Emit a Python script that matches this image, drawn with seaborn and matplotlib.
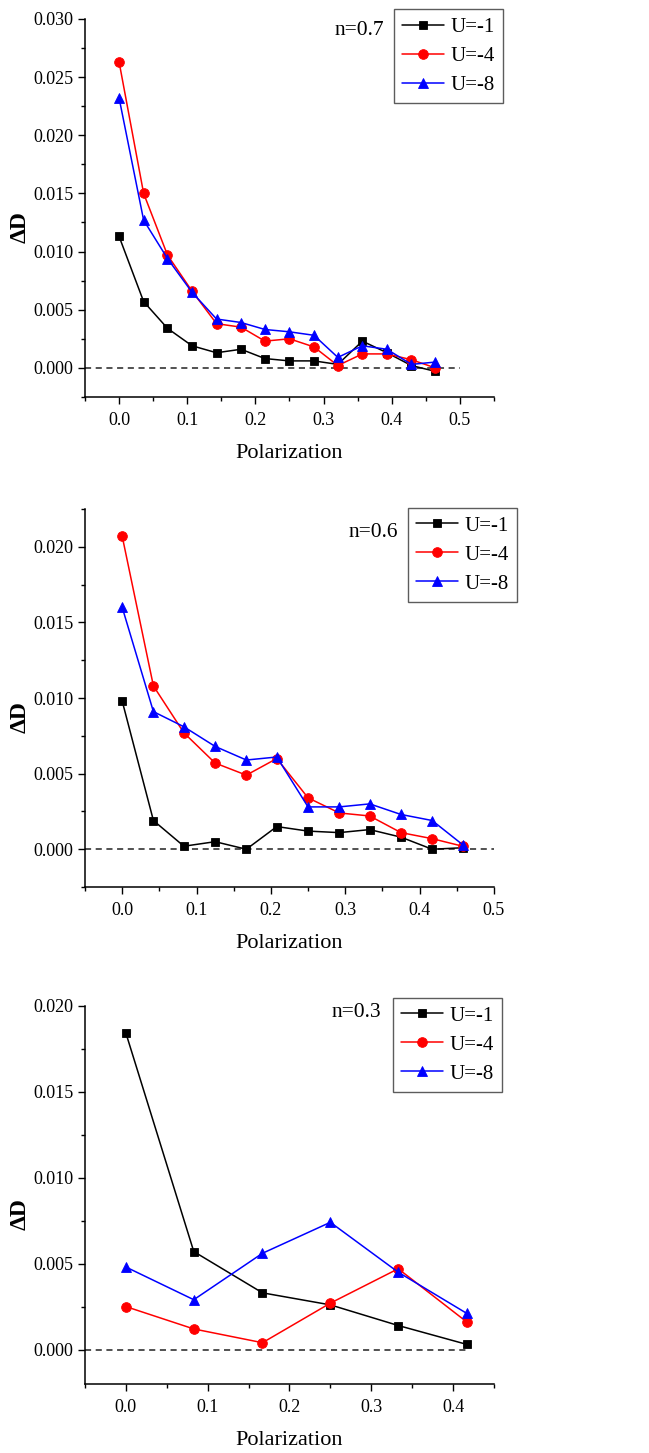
import numpy as np
import pandas as pd
import matplotlib
matplotlib.use('Agg')
import matplotlib.pyplot as plt
from matplotlib.ticker import MultipleLocator, AutoMinorLocator, FormatStrFormatter
import seaborn as sns

# ---------------- data ----------------
series_names = ['U=-1', 'U=-4', 'U=-8']

# n = 0.7
x_07 = [0.0, 0.036, 0.071, 0.107, 0.143, 0.179, 0.214, 0.25, 0.286, 0.321, 0.357, 0.393, 0.429, 0.464]
u1_07 = [0.0113, 0.0057, 0.0034, 0.0019, 0.0013, 0.0016, 0.0008, 0.0006, 0.0006, 0.0003, 0.0023, 0.0013, 0.0002, -0.0003]
u4_07 = [0.0263, 0.0150, 0.0097, 0.0066, 0.0038, 0.0035, 0.0023, 0.0025, 0.0018, 0.0002, 0.0012, 0.0012, 0.0007, 0.0000]
u8_07 = [0.0232, 0.0127, 0.0094, 0.0065, 0.0042, 0.0039, 0.0033, 0.0031, 0.0028, 0.0009, 0.0019, 0.0016, 0.0003, 0.0005]

# n = 0.6
x_06 = [0.0, 0.042, 0.083, 0.125, 0.167, 0.208, 0.25, 0.292, 0.333, 0.375, 0.417, 0.458]
u1_06 = [0.0098, 0.0019, 0.0002, 0.0005, 0.0000, 0.0015, 0.0012, 0.0011, 0.0013, 0.0008, 0.0000, 0.0001]
u4_06 = [0.0207, 0.0108, 0.0077, 0.0057, 0.0049, 0.0060, 0.0034, 0.0024, 0.0022, 0.0011, 0.0007, 0.0002]
u8_06 = [0.0160, 0.0091, 0.0081, 0.0068, 0.0059, 0.0061, 0.0028, 0.0028, 0.0030, 0.0023, 0.0019, 0.0003]

# n = 0.3
x_03 = [0.0, 0.083, 0.167, 0.25, 0.333, 0.417]
u1_03 = [0.0184, 0.0057, 0.0033, 0.0026, 0.0014, 0.0003]
u4_03 = [0.0025, 0.0012, 0.0004, 0.0027, 0.0047, 0.0016]
u8_03 = [0.0048, 0.0029, 0.0056, 0.0074, 0.0045, 0.0021]

panel_labels = ['n=0.7', 'n=0.6', 'n=0.3']
xlims = [(-0.05, 0.55), (-0.05, 0.5), (-0.05, 0.45)]
ylims = [(-0.0025, 0.030), (-0.0025, 0.0225), (-0.002, 0.020)]
zero_line_end = [0.5, 0.5, 0.417]

panels = [
    (x_07, [u1_07, u4_07, u8_07]),
    (x_06, [u1_06, u4_06, u8_06]),
    (x_03, [u1_03, u4_03, u8_03]),
]

# ---------------- style ----------------
sns.set_style('ticks')
plt.rcParams['font.family'] = ['Liberation Serif', 'DejaVu Serif']
for key in ['text.color', 'axes.labelcolor', 'xtick.color', 'ytick.color']:
    plt.rcParams[key] = 'black'

colors = ['#000000', '#ff0000', '#0000ff']
markers = ['s', 'o', '^']
msizes = [6.0, 7.0, 7.5]

fig = plt.figure(figsize=(6.49, 14.53), dpi=100)

# axes boxes in figure fractions (left, bottom, width, height)
boxes = [
    (0.131, 0.7268, 0.630, 0.2602),
    (0.131, 0.3895, 0.630, 0.2602),
    (0.131, 0.0475, 0.630, 0.2604),
]
legend_anchor = [(1.022, 1.026), (1.056, 1.003), (1.020, 1.021)]
nlabel_pos = [(0.670, 0.968), (0.705, 0.939), (0.664, 0.981)]

for i, (xs, ys) in enumerate(panels):
    ax = fig.add_axes(boxes[i])

    # dashed zero reference
    ax.plot([xlims[i][0], zero_line_end[i]], [0, 0], ls=(0, (4, 3)), color='#222222', lw=1.1, zorder=1)

    for name, y, c, m, ms in zip(series_names, ys, colors, markers, msizes):
        df = pd.DataFrame({'Polarization': xs, 'dD': y})
        sns.lineplot(data=df, x='Polarization', y='dD', ax=ax, color=c, marker=m,
                     markersize=ms, markeredgecolor=c, markeredgewidth=0.6,
                     linewidth=1.1, label=name, errorbar=None, zorder=3)

    ax.set_xlim(*xlims[i])
    ax.set_ylim(*ylims[i])
    ax.xaxis.set_major_locator(MultipleLocator(0.1))
    ax.xaxis.set_minor_locator(AutoMinorLocator(2))
    ax.yaxis.set_major_locator(MultipleLocator(0.005))
    ax.yaxis.set_minor_locator(AutoMinorLocator(2))
    ax.xaxis.set_major_formatter(FormatStrFormatter('%.1f'))
    ax.yaxis.set_major_formatter(FormatStrFormatter('%.3f'))
    ax.tick_params(which='major', direction='out', length=5, width=1, labelsize=13, pad=3.5)
    ax.tick_params(axis='x', which='major', pad=6)
    ax.tick_params(which='minor', direction='out', length=3, width=1)
    sns.despine(ax=ax)
    for sp in ['left', 'bottom']:
        ax.spines[sp].set_linewidth(1.1)
        ax.spines[sp].set_color('black')

    ax.set_xlabel('Polarization', fontsize=16)
    ax.set_ylabel('ΔD', fontsize=17, fontweight='bold')
    ax.xaxis.label.set_va('center')
    ax.yaxis.label.set_va('center')
    ax.xaxis.set_label_coords(0.5, -0.15)
    ax.yaxis.set_label_coords(-0.159, 0.45)

    ax.text(nlabel_pos[i][0], nlabel_pos[i][1], panel_labels[i], transform=ax.transAxes,
            ha='center', va='center', fontsize=15.5)

    leg = ax.legend(loc='upper right', bbox_to_anchor=legend_anchor[i], borderaxespad=0,
                    fontsize=15, frameon=True, fancybox=False, handlelength=2.0,
                    handletextpad=0.3, labelspacing=0.45, borderpad=0.4)
    leg.get_frame().set_edgecolor('#333333')
    leg.get_frame().set_linewidth(1.0)

fig.savefig('out.png', dpi=100)
